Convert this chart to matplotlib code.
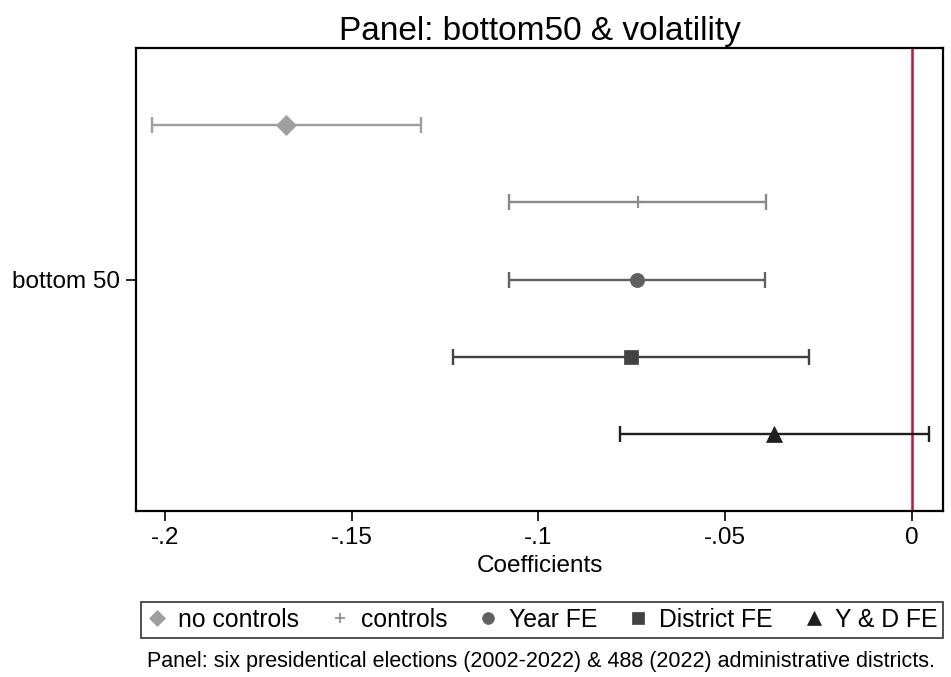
import matplotlib
matplotlib.use("Agg")
import matplotlib.pyplot as plt
from matplotlib.lines import Line2D

plt.rcParams["font.family"] = ["Liberation Sans", "DejaVu Sans"]

# Coefficient estimates with 95% confidence bounds, one per specification
models = ["no controls", "controls", "Year FE", "District FE", "Y & D FE"]
coef = [-0.1675, -0.0734, -0.0736, -0.0752, -0.0369]
ci_low = [-0.2035, -0.1078, -0.1078, -0.1230, -0.0782]
ci_high = [-0.1314, -0.0389, -0.0392, -0.0275, 0.0046]
row_pos = [2, 1, 0, -1, -2]

category = "bottom 50"
xticks = [-0.2, -0.15, -0.1, -0.05, 0]
xtick_labels = ["-.2", "-.15", "-.1", "-.05", "0"]

markers = ["D", "+", "o", "s", "^"]
msizes = [9.8, 9, 10.2, 10.5, 12]
colors = ["#9f9f9f", "#8a8a8a", "#606060", "#424242", "#1f1f1f"]

fig = plt.figure(figsize=(9.51, 6.77), dpi=100)
ax = fig.add_axes([136 / 951, 1 - 511 / 677, (943 - 136) / 951, (511 - 48) / 677])

ax.axvline(0, color="#c0143c", lw=1.8, zorder=1)

for m, c, lo, hi, y, mk, ms, col in zip(models, coef, ci_low, ci_high,
                                         row_pos, markers, msizes, colors):
    ax.errorbar([c], [y], xerr=[[c - lo], [hi - c]], fmt="none",
                ecolor=col, elinewidth=1.7, capsize=6, capthick=1.7, zorder=2)
    ax.plot([c], [y], marker=mk, ms=ms, color=col, ls="none",
            mew=1.5 if mk == "+" else 0.5, zorder=3)

ax.set_xlim(-0.2078, 0.0084)
ax.set_ylim(-3, 3)
ax.set_xticks(xticks)
ax.set_xticklabels(xtick_labels, fontsize=17.5)
ax.set_yticks([0])
ax.set_yticklabels([category], fontsize=17.5)
ax.tick_params(axis="both", direction="out", length=7, width=1.2, color="black", pad=4.5)
for s in ax.spines.values():
    s.set_linewidth(1.6)
    s.set_color("black")

ax.set_xlabel("Coefficients", fontsize=17.5, labelpad=4)
ax.set_title("Panel: bottom50 & volatility", fontsize=24, pad=6)

handles = [Line2D([], [], marker=mk, ms=s, color=col, ls="none",
                  mew=1.2 if mk == "+" else 0.5)
           for mk, s, col in zip(markers, [8.5, 7.5, 8.5, 9, 10], colors)]
leg = fig.legend(handles, models, loc="center", bbox_to_anchor=(542 / 951, 1 - 620 / 677),
                 ncol=5, fontsize=17.8, frameon=True, fancybox=False, handlelength=0.8,
                 handletextpad=0.45, columnspacing=1.25, borderpad=0.26, borderaxespad=0)
leg.get_frame().set_edgecolor("black")
leg.get_frame().set_linewidth(1.2)

fig.text(935 / 951, 1 - 662 / 677,
         "Panel: six presidentical elections (2002-2022) & 488 (2022) administrative districts.",
         ha="right", va="center", fontsize=15.5)

fig.savefig("out.png", dpi=100)
